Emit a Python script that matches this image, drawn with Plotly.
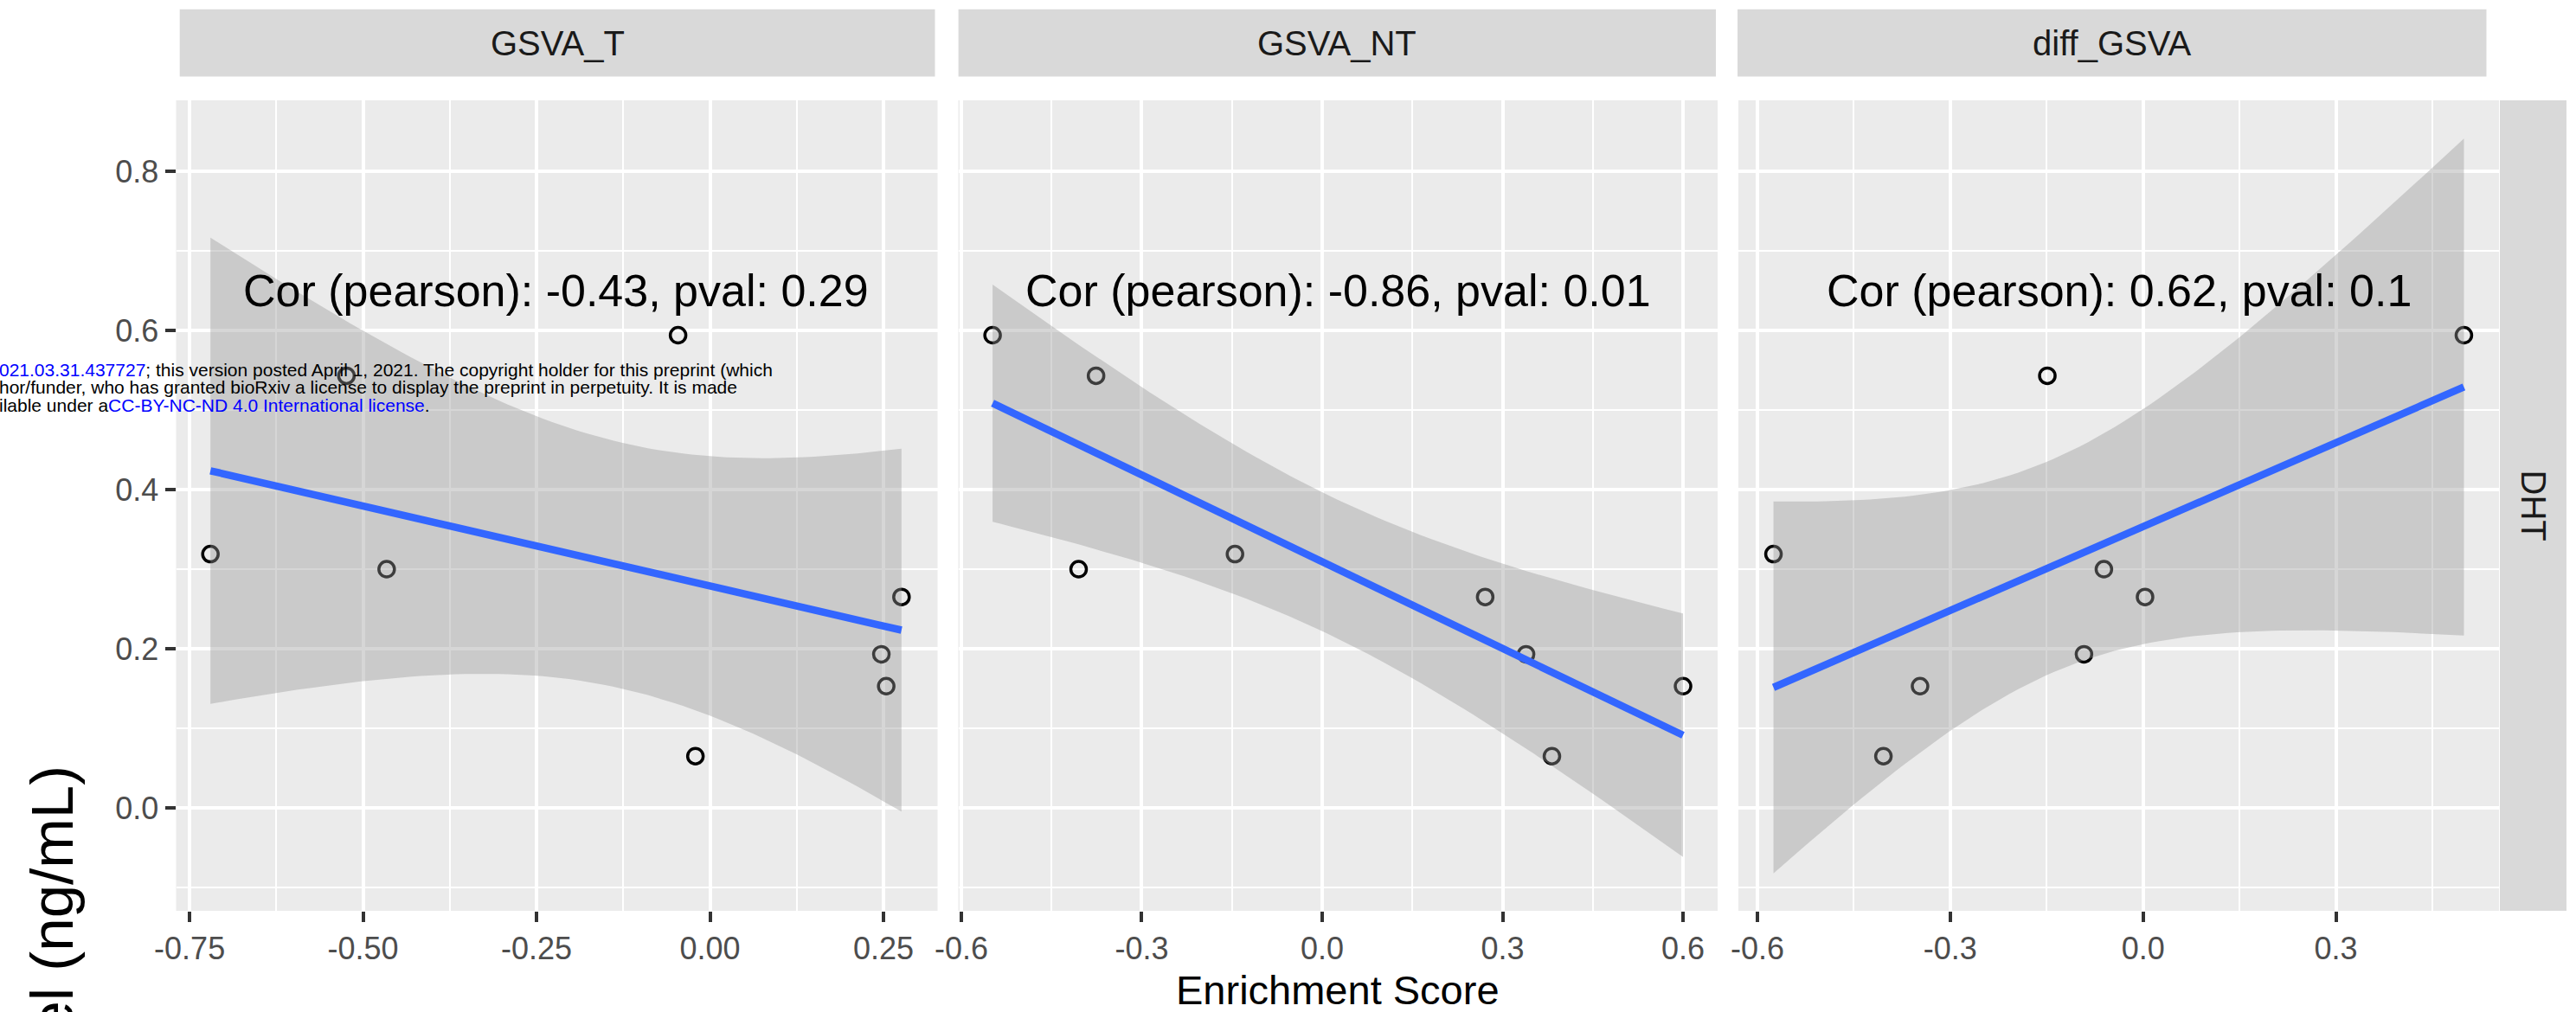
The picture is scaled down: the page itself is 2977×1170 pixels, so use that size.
import numpy as np
import plotly.graph_objects as go

# Eight samples: DHT level against three GSVA enrichment scores
dht = [0.594, 0.543, 0.319, 0.300, 0.265, 0.193, 0.153, 0.065]
gsva_t = [-0.046, -0.524, -0.720, -0.466, 0.276, 0.247, 0.254, -0.021]
gsva_nt = [-0.548, -0.376, -0.145, -0.405, 0.271, 0.339, 0.600, 0.382]
diff_gsva = [0.499, -0.149, -0.575, -0.061, 0.003, -0.092, -0.347, -0.404]

facets = ["GSVA_T", "GSVA_NT", "diff_GSVA"]
cor_labels = [
    "Cor (pearson): -0.43, pval: 0.29",
    "Cor (pearson): -0.86, pval: 0.01",
    "Cor (pearson): 0.62, pval: 0.1",
]
x_ticks = [
    [-0.75, -0.50, -0.25, 0.00, 0.25],
    [-0.6, -0.3, 0.0, 0.3, 0.6],
    [-0.6, -0.3, 0.0, 0.3],
]
x_tick_text = [
    ["-0.75", "-0.50", "-0.25", "0.00", "0.25"],
    ["-0.6", "-0.3", "0.0", "0.3", "0.6"],
    ["-0.6", "-0.3", "0.0", "0.3"],
]
y_ticks = [0.0, 0.2, 0.4, 0.6, 0.8]
y_tick_text = ["0.0", "0.2", "0.4", "0.6", "0.8"]
row_label = "DHT"
x_title = "Enrichment Score"
y_title = "el (ng/mL)"

W, H = 2977, 1170
FONT = "Liberation Sans"
PANEL_BG = "#EBEBEB"
STRIP_BG = "#D9D9D9"


def fx(p):
    return p / W


def fy(p):
    return 1 - p / H


# panel geometry (pixels)
panel_x = [(203.5, 1083.5), (1107.5, 1985.0), (2009.0, 2888.0)]
panel_y = (116.0, 1053.0)
x_ranges = [(-0.7695, 0.328), (-0.605, 0.6575), (-0.6296, 0.5536)]
y_range = (-0.1293, 0.8891)
strip_x = [(207.7, 1080.5), (1107.6, 1983.0), (2008.0, 2873.5)]
strip_y = (10.7, 88.5)
sliver_y = (88.5, 98.5)
row_strip_x = (2889.0, 2966.0)

T_975_DF6 = 2.446912  # qt(0.975, df = n - 2)


def lm_band(x, y, n_grid=80):
    x = np.asarray(x, float)
    y = np.asarray(y, float)
    n = len(x)
    slope, intercept = np.polyfit(x, y, 1)
    resid = y - (slope * x + intercept)
    s = np.sqrt(np.sum(resid ** 2) / (n - 2))
    xbar = x.mean()
    sxx = np.sum((x - xbar) ** 2)
    xg = np.linspace(x.min(), x.max(), n_grid)
    yg = slope * xg + intercept
    se = s * np.sqrt(1.0 / n + (xg - xbar) ** 2 / sxx)
    return xg, yg, yg - T_975_DF6 * se, yg + T_975_DF6 * se


fig = go.Figure()
annotations = []
shapes = []
xs_all = [gsva_t, gsva_nt, diff_gsva]

for i, xs in enumerate(xs_all):
    sfx = "" if i == 0 else str(i + 1)
    xa, ya = "x" + sfx, "y" + sfx
    # points first, so the ribbon sits on top of them
    fig.add_trace(go.Scatter(
        x=xs, y=dht, xaxis=xa, yaxis=ya, mode="markers",
        marker=dict(symbol="circle-open", size=18, color="black",
                    line=dict(width=3.5, color="black")),
        showlegend=False, hoverinfo="skip"))
    xg, yg, lo, hi = lm_band(xs, dht)
    fig.add_trace(go.Scatter(
        x=np.concatenate([xg, xg[::-1]]), y=np.concatenate([hi, lo[::-1]]),
        xaxis=xa, yaxis=ya, mode="lines", fill="toself",
        fillcolor="rgba(153,153,153,0.4)", line=dict(width=0),
        showlegend=False, hoverinfo="skip"))
    fig.add_trace(go.Scatter(
        x=xg, y=yg, xaxis=xa, yaxis=ya, mode="lines",
        line=dict(color="#3366FF", width=8.5),
        showlegend=False, hoverinfo="skip"))

    annotations.append(dict(
        x=(min(xs) + max(xs)) / 2, y=0.65, xref=xa, yref=ya,
        text=cor_labels[i], showarrow=False,
        font=dict(family=FONT, size=52, color="black"),
        xanchor="center", yanchor="middle"))

    # facet strip on top
    shapes.append(dict(type="rect", xref="paper", yref="paper",
                       x0=fx(strip_x[i][0]), x1=fx(strip_x[i][1]),
                       y0=fy(strip_y[1]), y1=fy(strip_y[0]),
                       fillcolor=STRIP_BG, line=dict(width=0), layer="below"))
    annotations.append(dict(
        x=fx((strip_x[i][0] + strip_x[i][1]) / 2),
        y=fy((strip_y[0] + strip_y[1]) / 2), xref="paper", yref="paper",
        text=facets[i], showarrow=False,
        font=dict(family=FONT, size=40, color="#1A1A1A"),
        xanchor="center", yanchor="middle"))

# row strip on the right
shapes.append(dict(type="rect", xref="paper", yref="paper",
                   x0=fx(row_strip_x[0]), x1=fx(row_strip_x[1]),
                   y0=fy(panel_y[1]), y1=fy(panel_y[0]),
                   fillcolor=STRIP_BG, line=dict(width=0), layer="below"))
annotations.append(dict(
    x=fx(2928), y=fy((panel_y[0] + panel_y[1]) / 2), xref="paper", yref="paper",
    text=row_label, textangle=90, showarrow=False,
    font=dict(family=FONT, size=40, color="#1A1A1A"),
    xanchor="center", yanchor="middle"))

# axis titles
annotations.append(dict(
    x=fx((panel_x[0][0] + panel_x[2][1]) / 2), y=fy(1144), xref="paper", yref="paper",
    text=x_title, showarrow=False,
    font=dict(family=FONT, size=47, color="black"),
    xanchor="center", yanchor="middle"))
annotations.append(dict(
    x=fx(60), y=fy(883), xref="paper", yref="paper",
    text=y_title, textangle=-90, showarrow=False,
    font=dict(family=FONT, size=69, color="black"),
    xanchor="center", yanchor="top"))

# preprint notice lines over the left edge
notice = [
    "<span style='color:#0000FF'>021.03.31.437727</span>; this version posted April 1, 2021. "
    "The copyright holder for this preprint (which",
    "hor/funder, who has granted bioRxiv a license to display the preprint in perpetuity. It is made",
    "ilable under a<span style='color:#0000FF'>CC-BY-NC-ND 4.0 International license</span>.",
]
for k, (line, yc) in enumerate(zip(notice, [427, 447.5, 468])):
    annotations.append(dict(
        x=0, y=fy(yc), xref="paper", yref="paper", text=line, showarrow=False,
        font=dict(family=FONT, size=21, color="black"),
        xanchor="left", yanchor="middle", xshift=-3))

layout = dict(
    width=W, height=H, margin=dict(l=0, r=0, t=0, b=0, autoexpand=False),
    paper_bgcolor="white", plot_bgcolor=PANEL_BG,
    font=dict(family=FONT),
    annotations=annotations, shapes=shapes, showlegend=False,
)

tick_font = dict(family=FONT, size=36, color="#4D4D4D")
minor_x = [0.125, 0.15, 0.15]

for i in range(3):
    sfx = "" if i == 0 else str(i + 1)
    layout["xaxis" + sfx] = dict(
        domain=[fx(panel_x[i][0]), fx(panel_x[i][1])],
        range=list(x_ranges[i]), anchor="y" + sfx, automargin=False,
        tickmode="array", tickvals=x_ticks[i], ticktext=x_tick_text[i],
        ticks="outside", ticklen=12, tickwidth=4, tickcolor="#333333",
        tickfont=tick_font, showgrid=True, gridcolor="white", gridwidth=4,
        minor=dict(tick0=0, dtick=minor_x[i], showgrid=True,
                   gridcolor="white", gridwidth=2, ticks=""),
        zeroline=False, showline=False, fixedrange=True,
    )
    yax = dict(
        domain=[fy(panel_y[1]), fy(panel_y[0])], range=list(y_range),
        anchor="x" + sfx, automargin=False,
        tickmode="array", tickvals=y_ticks, ticktext=y_tick_text,
        showgrid=True, gridcolor="white", gridwidth=4,
        minor=dict(tick0=0.1, dtick=0.2, showgrid=True,
                   gridcolor="white", gridwidth=2, ticks=""),
        zeroline=False, showline=False, fixedrange=True,
    )
    if i == 0:
        yax.update(ticks="outside", ticklen=12, tickwidth=4, tickcolor="#333333",
                   tickfont=tick_font)
    else:
        yax.update(showticklabels=False, ticks="", matches="y")
    layout["yaxis" + sfx] = yax

    # narrow grid band just under each top strip
    d0, d1 = panel_x[i]
    r0, r1 = x_ranges[i]
    s0, s1 = strip_x[i]
    shift = 3.5

    def val(p):
        return r0 + (p - shift - d0) / (d1 - d0) * (r1 - r0)

    j = str(i + 4)
    layout["xaxis" + j] = dict(
        domain=[fx(s0), fx(s1)], range=[val(s0), val(s1)], anchor="y" + j,
        automargin=False,
        tickmode="array", tickvals=x_ticks[i], showticklabels=False, ticks="",
        showgrid=True, gridcolor="white", gridwidth=4,
        minor=dict(tick0=0, dtick=minor_x[i], showgrid=True,
                   gridcolor="white", gridwidth=2, ticks=""),
        zeroline=False, showline=False, fixedrange=True,
    )
    layout["yaxis" + j] = dict(
        domain=[fy(sliver_y[1]), fy(sliver_y[0])], range=[0, 1], anchor="x" + j,
        automargin=False,
        showgrid=False, showticklabels=False, ticks="", zeroline=False,
        showline=False, fixedrange=True,
    )

fig.update_layout(**layout)
fig.write_html("out.html", config=dict(displayModeBar=False))
